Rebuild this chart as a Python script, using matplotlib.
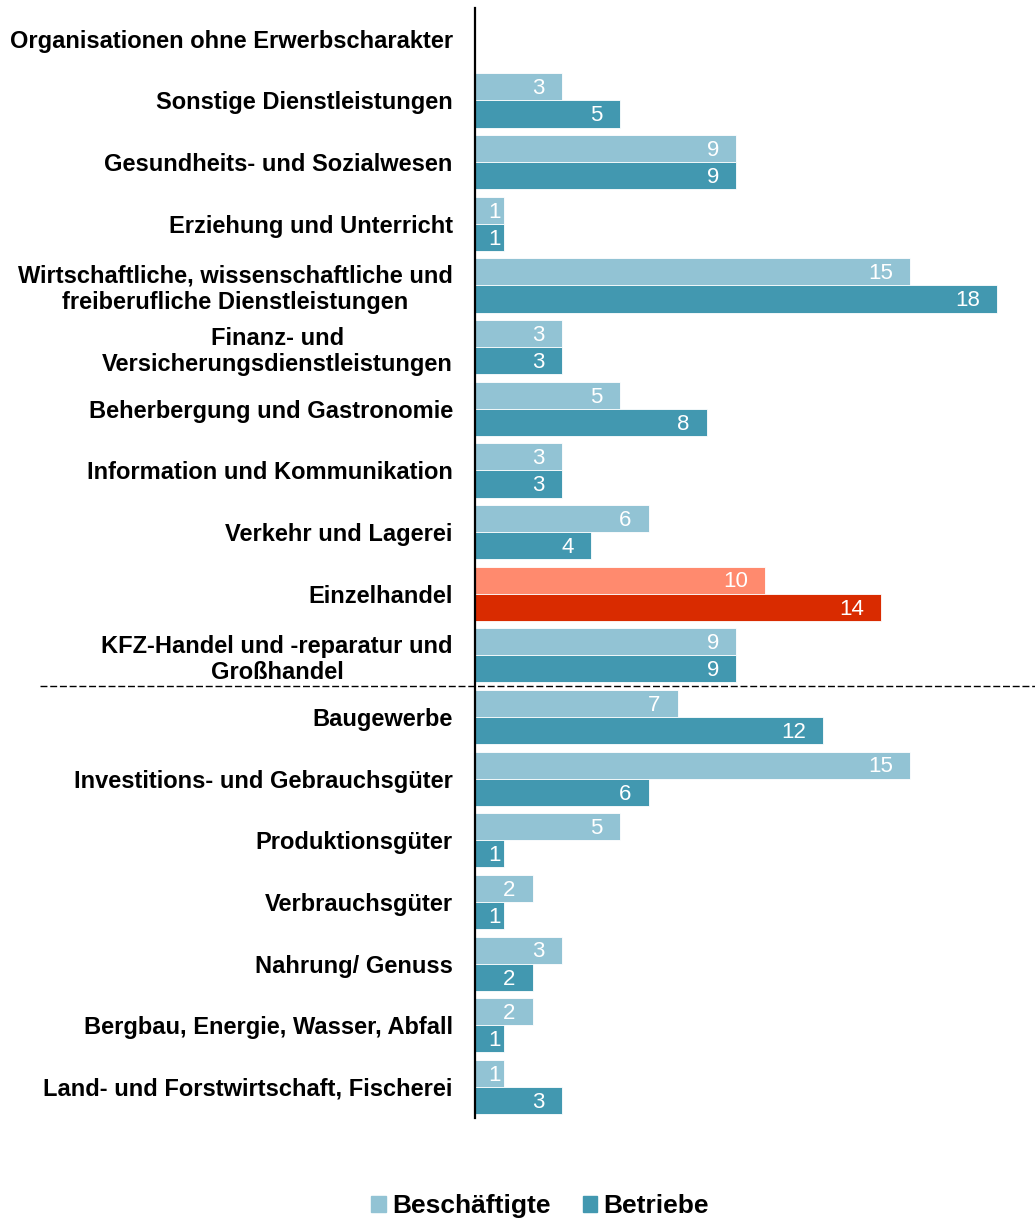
import matplotlib.pyplot as plt
import numpy as np

plt.rcParams['font.family'] = ['Liberation Sans', 'DejaVu Sans']

# Branchen (von oben nach unten)
branchen = [
    "Organisationen ohne Erwerbscharakter",
    "Sonstige Dienstleistungen",
    "Gesundheits- und Sozialwesen",
    "Erziehung und Unterricht",
    "Wirtschaftliche, wissenschaftliche und\nfreiberufliche Dienstleistungen",
    "Finanz- und\nVersicherungsdienstleistungen",
    "Beherbergung und Gastronomie",
    "Information und Kommunikation",
    "Verkehr und Lagerei",
    "Einzelhandel",
    "KFZ-Handel und -reparatur und\nGroßhandel",
    "Baugewerbe",
    "Investitions- und Gebrauchsgüter",
    "Produktionsgüter",
    "Verbrauchsgüter",
    "Nahrung/ Genuss",
    "Bergbau, Energie, Wasser, Abfall",
    "Land- und Forstwirtschaft, Fischerei",
]
beschaeftigte = [0, 3, 9, 1, 15, 3, 5, 3, 6, 10, 9, 7, 15, 5, 2, 3, 2, 1]
betriebe = [0, 5, 9, 1, 18, 3, 8, 3, 4, 14, 9, 12, 6, 1, 1, 2, 1, 3]
hervorgehoben = "Einzelhandel"

hell = '#92c3d4'
dunkel = '#4298b0'
hell_rot = '#ff8a6e'
dunkel_rot = '#d92b00'

fig = plt.figure(figsize=(10.35, 12.19), dpi=100)
ax = fig.add_axes([0.459, 0.083, 0.541, 0.9105])

y = np.arange(len(branchen))
h = 0.44
farben_h = [hell_rot if b == hervorgehoben else hell for b in branchen]
farben_d = [dunkel_rot if b == hervorgehoben else dunkel for b in branchen]

bars_h = ax.barh(y - h / 2, beschaeftigte, height=h, color=farben_h,
                 edgecolor='white', linewidth=0.6)
bars_d = ax.barh(y + h / 2, betriebe, height=h, color=farben_d,
                 edgecolor='white', linewidth=0.6)

for bars, werte in ((bars_h, beschaeftigte), (bars_d, betriebe)):
    for bar, w in zip(bars, werte):
        if w == 0:
            continue
        # kurze Balken: Beschriftung bleibt im Balken
        xpos = max(w - 0.6, 0.88)
        ax.text(xpos, bar.get_y() + bar.get_height() / 2 + 0.03, str(w),
                ha='right', va='center', color='white', fontsize=16)

ax.set_ylim(17.5, -0.5)
ax.set_xlim(0, 19.3)
ax.set_yticks(y)
ax.set_yticklabels(branchen, fontsize=17, fontweight='bold', multialignment='center')
ax.tick_params(axis='y', length=0, pad=16)
ax.set_xticks([])
for s in ['top', 'right', 'bottom']:
    ax.spines[s].set_visible(False)
ax.spines['left'].set_linewidth(1.6)

# Trennlinie zwischen Dienstleistung/Handel und Industrie
ax.plot([-15.0, 19.3], [10.5, 10.5], color='black', linestyle='--',
        linewidth=1.0, clip_on=False, dashes=(5, 2))

# Legende
fig.legend(handles=[plt.Rectangle((0, 0), 1, 1, color=hell),
                    plt.Rectangle((0, 0), 1, 1, color=dunkel)],
           labels=['Beschäftigte', 'Betriebe'], loc='lower center',
           bbox_to_anchor=(0.522, -0.019), ncol=2, frameon=False,
           prop={'size': 19, 'weight': 'bold'}, handlelength=0.55,
           handleheight=0.55, handletextpad=0.25, columnspacing=1.2)

fig.savefig('out.png', dpi=100)
